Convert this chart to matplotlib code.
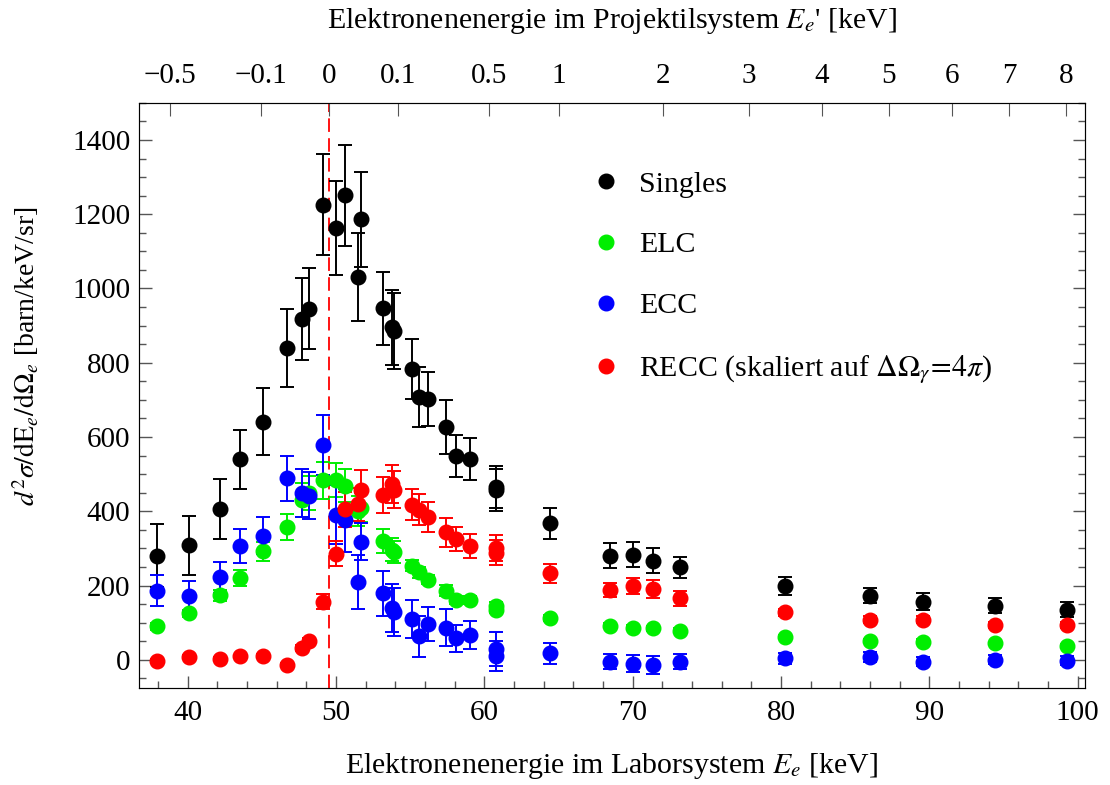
import matplotlib
matplotlib.use('Agg')
import matplotlib.pyplot as plt
from matplotlib.lines import Line2D
from matplotlib.ticker import MultipleLocator

plt.rcParams['font.family'] = ['Liberation Serif', 'DejaVu Serif']
plt.rcParams['mathtext.fontset'] = 'stix'

# lab-frame electron energy [keV]
energy = [37.9, 40.1, 42.2, 43.5, 45.1, 46.7, 47.7, 48.2, 49.1, 50.0, 50.6, 51.5, 51.7,
          53.2, 53.8, 53.9, 55.1, 55.6, 56.2, 57.4, 58.1, 59.0, 60.8, 60.8, 64.4,
          68.5, 70.0, 71.4, 73.2, 80.3, 86.0, 89.6, 94.4, 99.3]

singles = [280, 308, 406, 540, 641, 841, 917, 946, 1226, 1162, 1251, 1031, 1187,
           947, 895, 886, 783, 708, 702, 627, 549, 540, 466, 458, 368,
           280, 283, 267, 249, 198, 173, 157, 146, 135]
singles_err = [85, 80, 80, 80, 90, 105, 110, 110, 135, 127, 136, 119, 128,
               98, 102, 102, 80, 80, 72, 74, 57, 57, 56, 56, 42,
               34, 33, 33, 29, 24, 20, 22, 20, 20]

elc = [90, 125, 174, 220, 292, 358, 430, 449, 484, 484, 469, 400, 410,
       321, 297, 290, 253, 236, 216, 186, 161, 161, 146, 135, 112,
       92, 86, 85, 78, 61, 51, 49, 44, 38]
elc_err = [10, 10, 15, 22, 25, 35, 45, 45, 50, 45, 45, 40, 40,
           32, 30, 30, 15, 15, 12, 15, 12, 12, 10, 10, 8,
           7, 7, 7, 7, 6, 6, 6, 5, 5]

ecc = [186, 171, 222, 306, 334, 489, 449, 442, 579, 391, 376, 209, 318,
       179, 140, 128, 110, 63, 96, 87, 58, 67, 29, 11, 17,
       -5, -10, -14, -5, 4, 8, -5, 0, -2]
ecc_err = [42, 40, 42, 45, 50, 60, 64, 63, 80, 80, 85, 72, 50,
           60, 65, 65, 50, 56, 46, 50, 37, 38, 45, 40, 28,
           20, 22, 23, 20, 14, 14, 12, 12, 12]

recc = [-4, 7, 2, 9, 11, -13, 33, 51, 156, 286, 406, 419, 458,
        444, 473, 458, 418, 404, 385, 343, 325, 307, 300, 289, 233,
        189, 198, 191, 166, 128, 108, 108, 95, 95]
recc_err = [5, 5, 5, 5, 5, 5, 8, 8, 20, 34, 47, 45, 52,
            48, 52, 50, 42, 42, 40, 40, 32, 32, 35, 35, 25,
            19, 21, 24, 20, 10, 10, 10, 8, 8]

cusp_energy = 49.5

# projectile-frame energy ticks and their lab-frame positions
top_tick_pos = [38.83, 44.91, 49.51, 54.17, 60.32, 65.05, 72.07, 77.82,
                82.75, 87.28, 91.53, 95.39, 99.24]
top_tick_labels = ['\u22120.5', '\u22120.1', '0', '0.1', '0.5', '1', '2', '3',
                   '4', '5', '6', '7', '8']

series = [
    ('Singles', singles, singles_err, 'black'),
    ('ELC', elc, elc_err, '#00ee00'),
    ('ECC', ecc, ecc_err, '#0000ff'),
    ('RECC (skaliert auf $\\Delta\\Omega_\\gamma\\!=\\!4\\pi$)', recc, recc_err, '#ff0000'),
]

fig = plt.figure(figsize=(11.1, 7.85), dpi=100)
ax = fig.add_axes([0.125, 0.124, 0.8525, 0.745])

for label, vals, errs, col in series:
    ax.errorbar(energy, vals, yerr=errs, fmt='o', color=col, ms=10.5,
                elinewidth=1.4, capsize=5, capthick=1.4, zorder=3)

ax.axvline(cusp_energy, color='red', ls=(0, (7.5, 3.5)), lw=1.3, zorder=2)

ax.set_xlim(36.7, 100.5)
ax.set_ylim(-75, 1500)
ax.xaxis.set_major_locator(MultipleLocator(10))
ax.xaxis.set_minor_locator(MultipleLocator(2))
ax.yaxis.set_major_locator(MultipleLocator(200))
ax.yaxis.set_minor_locator(MultipleLocator(50))
ax.set_yticks(range(0, 1401, 200))
ax.tick_params(which='both', direction='in', labelsize=21, color='#555555',
               right=True, top=False)
ax.tick_params(which='major', length=9, width=1)
ax.tick_params(which='minor', length=5, width=1)
ax.tick_params(axis='x', which='major', pad=9)
ax.tick_params(axis='y', which='major', pad=6)
for sp in ax.spines.values():
    sp.set_color('#444444')

ax.set_xlabel('Elektronenenergie im Laborsystem $E_e$ [keV]', fontsize=21.5, labelpad=18)
ax.set_ylabel('$d^2\\sigma/\\mathrm{dE}_e/\\mathrm{d}\\Omega_e$ [barn/keV/sr]', fontsize=20)
ax.yaxis.set_label_coords(-0.103, 0.566)

top = ax.twiny()
top.set_xlim(ax.get_xlim())
top.set_xticks(top_tick_pos)
top.set_xticklabels(top_tick_labels)
top.tick_params(direction='in', labelsize=21, length=9, color='#555555', pad=10)
top.set_xlabel("Elektronenenergie im Projektilsystem $E_e$' [keV]", fontsize=21.5, labelpad=25)

handles = [Line2D([], [], ls='none', marker='o', color=c, ms=10.5) for _, _, _, c in series]
ax.legend(handles, [s[0] for s in series], loc='upper left', bbox_to_anchor=(0.45, 0.93),
          frameon=False, fontsize=21.5, handlelength=1.0, handletextpad=0.6,
          labelspacing=1.14)

fig.savefig('out.png', dpi=100)
